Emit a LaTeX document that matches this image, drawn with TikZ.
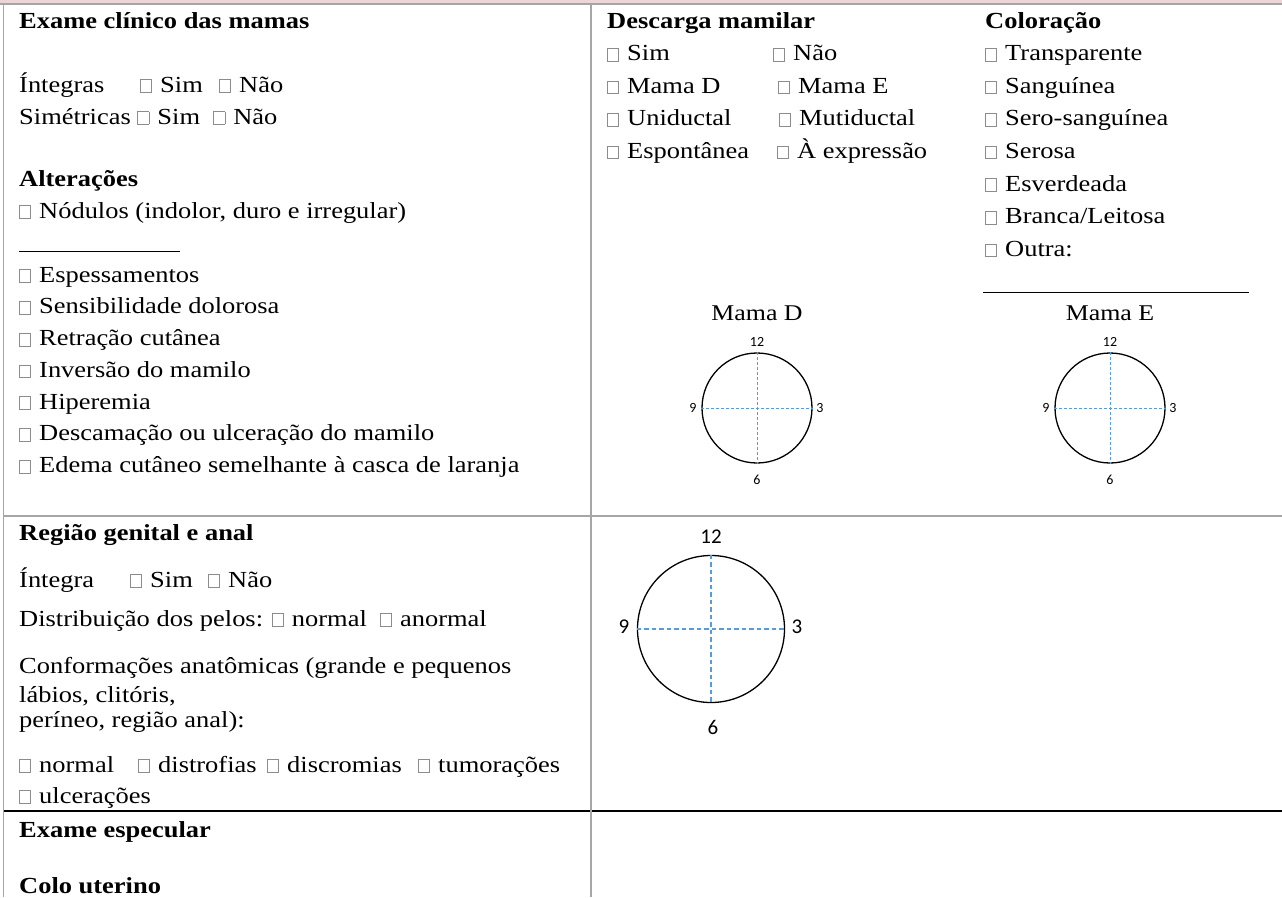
\documentclass[tikz,border=0pt]{standalone}
\usepackage{fontspec}
\setmainfont{Liberation Serif}[FakeStretch=1.15]
\newfontfamily\clockfont{Carlito}
\definecolor{pinkband}{HTML}{EBD6D6}
\definecolor{gridgray}{HTML}{A6A6A6}
\definecolor{boxgray}{HTML}{8C8C8C}
\definecolor{dashblue}{HTML}{5B9BD5}
\newcommand{\cbx}{{\color{boxgray}\setlength{\fboxsep}{0pt}\setlength{\fboxrule}{0.7pt}\fbox{\rule{0pt}{12pt}\rule{10.5pt}{0pt}}}\hspace{1.5pt}}
\tikzset{
  txt/.style={anchor=base west, inner sep=0pt, font=\fontsize{23}{27}\selectfont},
  btxt/.style={txt, font=\fontsize{23}{27}\selectfont\bfseries},
  mtxt/.style={anchor=base, inner sep=0pt, font=\fontsize{22.5}{27}\selectfont},
  clk/.style={inner sep=0pt, font=\clockfont\fontsize{14}{16}\selectfont},
  bigclk/.style={inner sep=0pt, font=\clockfont\fontsize{21}{24}\selectfont},
  clock/.style={circle, draw=black, line width=1.3pt, inner sep=0pt},
  axis/.style={dashblue, line width=1pt, dash pattern=on 3pt off 2pt},
  bigaxis/.style={dashblue, line width=1.2pt, dash pattern=on 4.5pt off 3pt},
  rule/.style={gridgray, line width=2pt},
  uline/.style={black, line width=0.8pt}
}
\begin{document}
\begin{tikzpicture}[x=1pt, y=-1pt]
\useasboundingbox (0,0) rectangle (1282,897);
% frame
\fill[pinkband] (0,0) rectangle (1282,3);
\draw[rule] (0,4) -- (1282,4);
\draw[rule] (3.5,515.7) -- (1282,515.7);
\draw[black, line width=2.3pt] (3.5,811) -- (1282,811);
\draw[gridgray, line width=1.6pt] (3.5,4) -- (3.5,897);
\draw[rule] (591,4) -- (591,897);

% left top cell
\node[btxt] (h1) at (19,28) {Exame clínico das mamas};
\node[txt] (int) at (19,92) {Íntegras};
\node[txt] (intS) at (140,92) {\cbx\ Sim};
\node[txt] (intN) at (219,92) {\cbx\ Não};
\node[txt] (sim) at (19,124) {Simétricas \cbx\ Sim \ \cbx\ Não};
\node[btxt] (alt) at (19,186.5) {Alterações};
\node[txt] (a1) at (19,218) {\cbx\ Nódulos (indolor, duro e irregular)};
\draw[uline] (19,251.5) -- (180,251.5);
\node[txt] (a2) at (19,282) {\cbx\ Espessamentos};
\node[txt] (a3) at (19,313.75) {\cbx\ Sensibilidade dolorosa};
\node[txt] (a4) at (19,345.5) {\cbx\ Retração cutânea};
\node[txt] (a5) at (19,377.25) {\cbx\ Inversão do mamilo};
\node[txt] (a6) at (19,409) {\cbx\ Hiperemia};
\node[txt] (a7) at (19,440.75) {\cbx\ Descamação ou ulceração do mamilo};
\node[txt] (a8) at (19,472.5) {\cbx\ Edema cutâneo semelhante à casca de laranja};

% middle top
\node[btxt] (h2) at (607,28) {Descarga mamilar};
\node[txt] (d1) at (607,60.6) {\cbx\ Sim};
\node[txt] (d2) at (773,60.6) {\cbx\ Não};
\node[txt] (d3) at (607,93.2) {\cbx\ Mama D};
\node[txt] (d4) at (778,93.2) {\cbx\ Mama E};
\node[txt] (d5) at (607,125.8) {\cbx\ Uniductal};
\node[txt] (d6) at (779,125.8) {\cbx\ Mutiductal};
\node[txt] (d7) at (607,158.4) {\cbx\ Espontânea};
\node[txt] (d8) at (777,158.4) {\cbx\ À expressão};

% right top
\node[btxt] (h3) at (985,28) {Coloração};
\node[txt] (k1) at (985,60.6) {\cbx\ Transparente};
\node[txt] (k2) at (985,93.2) {\cbx\ Sanguínea};
\node[txt] (k3) at (985,125.8) {\cbx\ Sero-sanguínea};
\node[txt] (k4) at (985,158.4) {\cbx\ Serosa};
\node[txt] (k5) at (985,191) {\cbx\ Esverdeada};
\node[txt] (k6) at (985,223.6) {\cbx\ Branca/Leitosa};
\node[txt] (k7) at (985,256.2) {\cbx\ Outra:};
\draw[uline] (983,292) -- (1249,292);

% breast clocks
\node[mtxt] (md) at (757,320) {Mama D};
\node[mtxt] (me) at (1110,320) {Mama E};
\node[clock, minimum size=110pt] (c1) at (757,408) {};
\draw[axis] (c1.west) -- (c1.east);
\draw[axis] (c1.north) -- (c1.south);
\node[clk] (c1t) at (757,342) {12};
\node[clk] (c1b) at (757,480) {6};
\node[clk] (c1l) at (693,408) {9};
\node[clk] (c1r) at (820,408) {3};
\node[clock, minimum size=110pt] (c2) at (1110,408) {};
\draw[axis] (c2.west) -- (c2.east);
\draw[axis] (c2.north) -- (c2.south);
\node[clk] (c2t) at (1110,342) {12};
\node[clk] (c2b) at (1110,480) {6};
\node[clk] (c2l) at (1046,408) {9};
\node[clk] (c2r) at (1173,408) {3};

% genital region
\node[btxt] (h4) at (19,540) {Região genital e anal};
\node[txt] (g1) at (19,587) {Íntegra};
\node[txt] (g1s) at (130,587) {\cbx\ Sim};
\node[txt] (g1n) at (208,587) {\cbx\ Não};
\node[txt] (g2) at (19,626) {Distribuição dos pelos: \cbx\ normal \ \cbx\ anormal};
\node[txt] (g3) at (19,673) {Conformações anatômicas (grande e pequenos};
\node[txt] (g4) at (19,702) {lábios, clitóris,};
\node[txt] (g5) at (19,727) {períneo, região anal):};
\node[txt] (g6a) at (19,772) {\cbx\ normal};
\node[txt] (g6b) at (138,772) {\cbx\ distrofias};
\node[txt] (g6c) at (267,772) {\cbx\ discromias};
\node[txt] (g6d) at (418,772) {\cbx\ tumorações};
\node[txt] (g7) at (19,803) {\cbx\ ulcerações};

\node[clock, minimum size=147pt] (c3) at (711,629) {};
\draw[bigaxis] (c3.west) -- (c3.east);
\draw[bigaxis] (c3.north) -- (c3.south);
\node[bigclk] (c3t) at (711,537) {12};
\node[bigclk] (c3b) at (713,727) {6};
\node[bigclk] (c3l) at (624,627) {9};
\node[bigclk] (c3r) at (797,627) {3};

% bottom
\node[btxt] (h5) at (19,837) {Exame especular};
\node[btxt] (h6) at (19,893) {Colo uterino};
\end{tikzpicture}
\end{document}
